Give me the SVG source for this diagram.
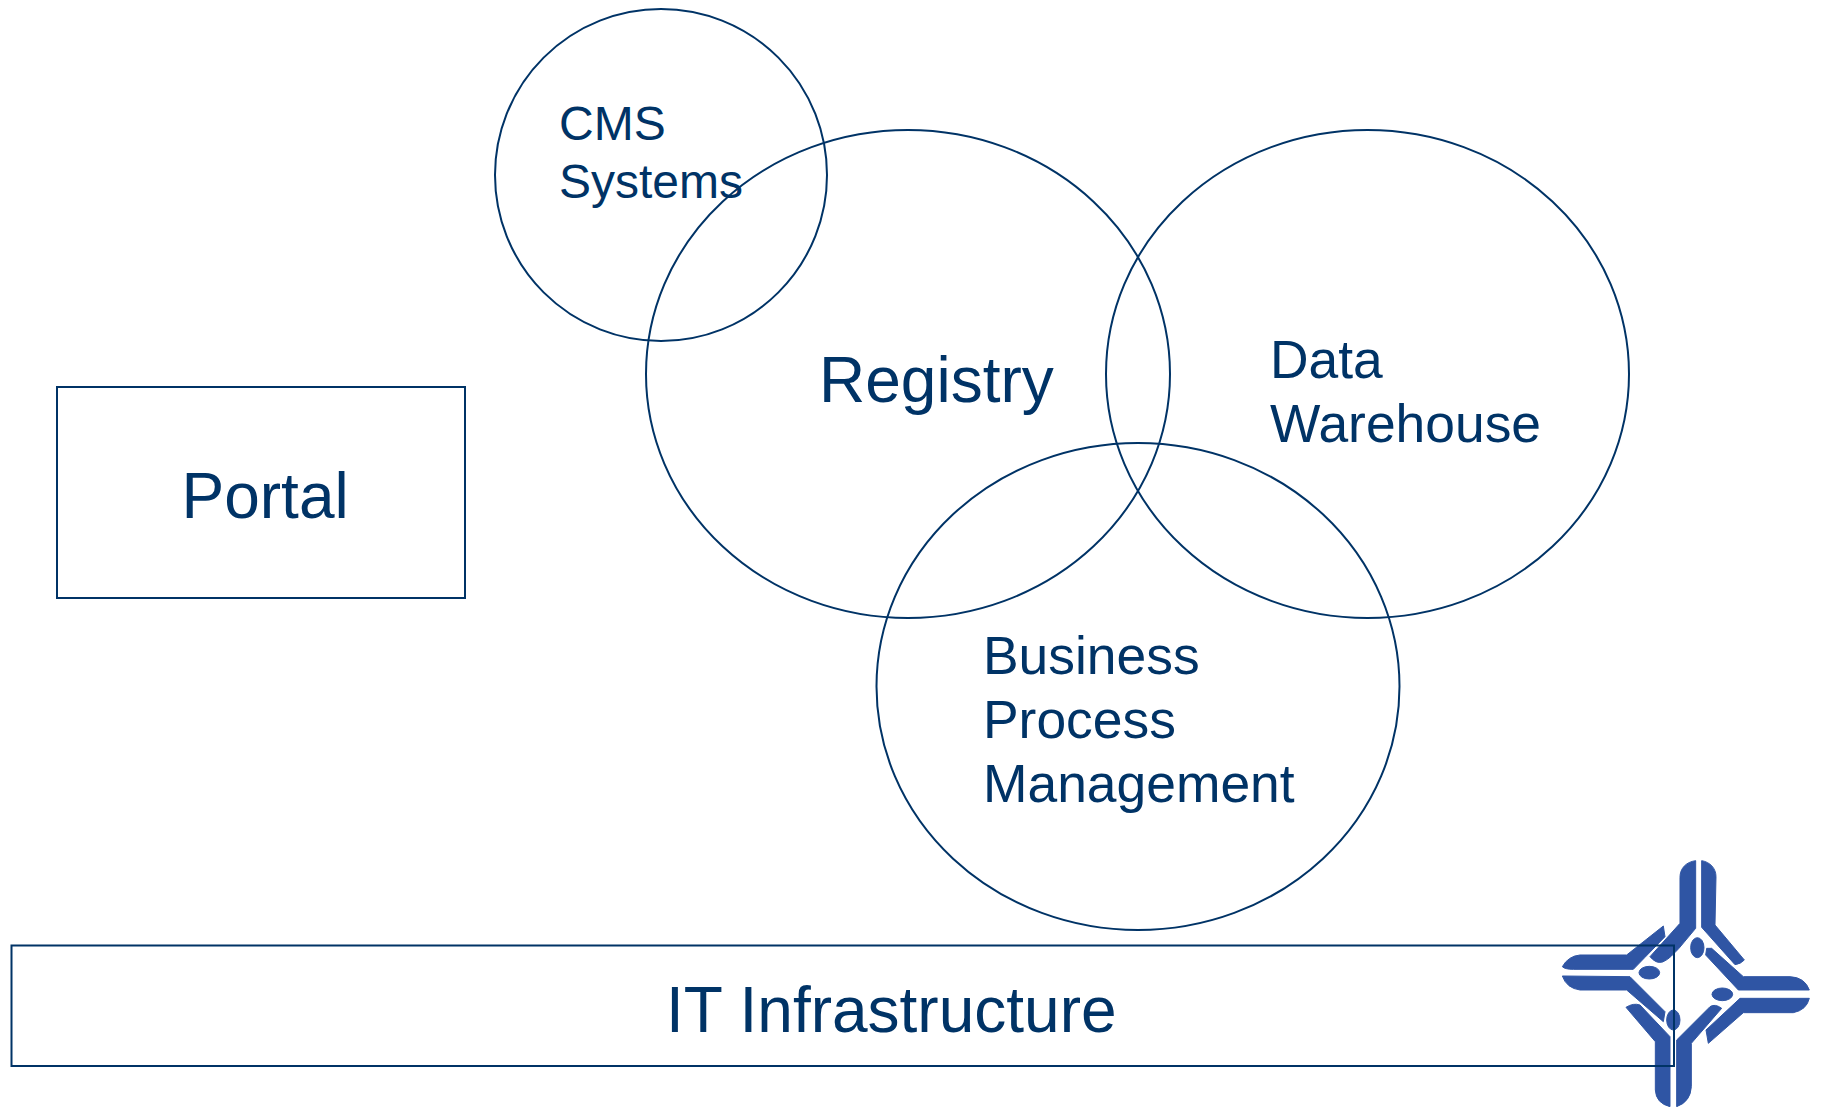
<svg xmlns="http://www.w3.org/2000/svg" width="1821" height="1107" viewBox="0 0 1821 1107">
<style>
.s{fill:none;stroke:#003366;stroke-width:2}
.t{font-family:"Liberation Sans",Arial,sans-serif;fill:#003366}
.l{fill:#2f55a4;stroke:#2f55a4;stroke-width:3;stroke-linejoin:round}
</style>
<rect width="1821" height="1107" fill="#fff"/>
<g id="logo" transform="translate(1530 840) scale(.33333)">
<path class="l" d="M515 62C540 66 558 85 558 110L555 255L643 360Q632 372 615 374L515 262Z"/>
<path class="l" d="M497 62C468 66 450 85 450 112L450 250L360 350Q378 372 398 366C418 358 432 340 447 325L497 265Z"/>
<path class="l" d="M400 258L405 290L345 352L310 388L130 388Q105 388 97 380Q115 348 150 345L290 345Z"/>
<path class="l" d="M97 408L300 410L405 515L400 545L290 450L150 450Q110 445 97 408Z"/>
<path class="l" d="M288 502Q310 488 330 495L420 590L420 800Q378 790 376 750L376 605Z"/>
<path class="l" d="M440 800Q482 785 484 740L484 610L575 505Q555 490 540 500L440 600Z"/>
<path class="l" d="M528 570L535 610L640 518L790 518Q830 510 838 475L630 475Z"/>
<path class="l" d="M530 325L527 345L625 450L838 450Q825 412 780 410L640 410L545 325Z"/>
<ellipse class="l" cx="502" cy="323" rx="20" ry="30"/>
<ellipse class="l" cx="358" cy="398" rx="31" ry="19"/>
<ellipse class="l" cx="430" cy="540" rx="20" ry="30"/>
<ellipse class="l" cx="577" cy="463" rx="31" ry="19"/>
</g>
<g id="cms"><circle class="s" cx="661" cy="175" r="166"/><text class="t" font-size="48" x="559" y="140">CMS</text><text class="t" font-size="48" x="559" y="198">Systems</text></g>
<g id="registry"><ellipse class="s" cx="908" cy="374" rx="262" ry="244"/><text class="t" font-size="64" x="819" y="402">Registry</text></g>
<g id="warehouse"><ellipse class="s" cx="1367.500" cy="374" rx="261.500" ry="244"/><text class="t" font-size="53.400" x="1270" y="378">Data</text><text class="t" font-size="53.400" x="1270" y="442">Warehouse</text></g>
<g id="bpm"><ellipse class="s" cx="1138" cy="686.500" rx="261.500" ry="243.500"/><text class="t" font-size="53.400" x="983" y="674">Business</text><text class="t" font-size="53.400" x="983" y="738">Process</text><text class="t" font-size="53.400" x="983" y="802">Management</text></g>
<g id="portal"><rect class="s" x="57" y="387" width="408" height="211"/><text class="t" font-size="64" x="181.500" y="518">Portal</text></g>
<g id="infra"><rect class="s" x="11.500" y="945.500" width="1662.500" height="120.500"/><text class="t" font-size="64" x="666" y="1032">IT Infrastructure</text></g>
<g id="connectors"/>
</svg>
